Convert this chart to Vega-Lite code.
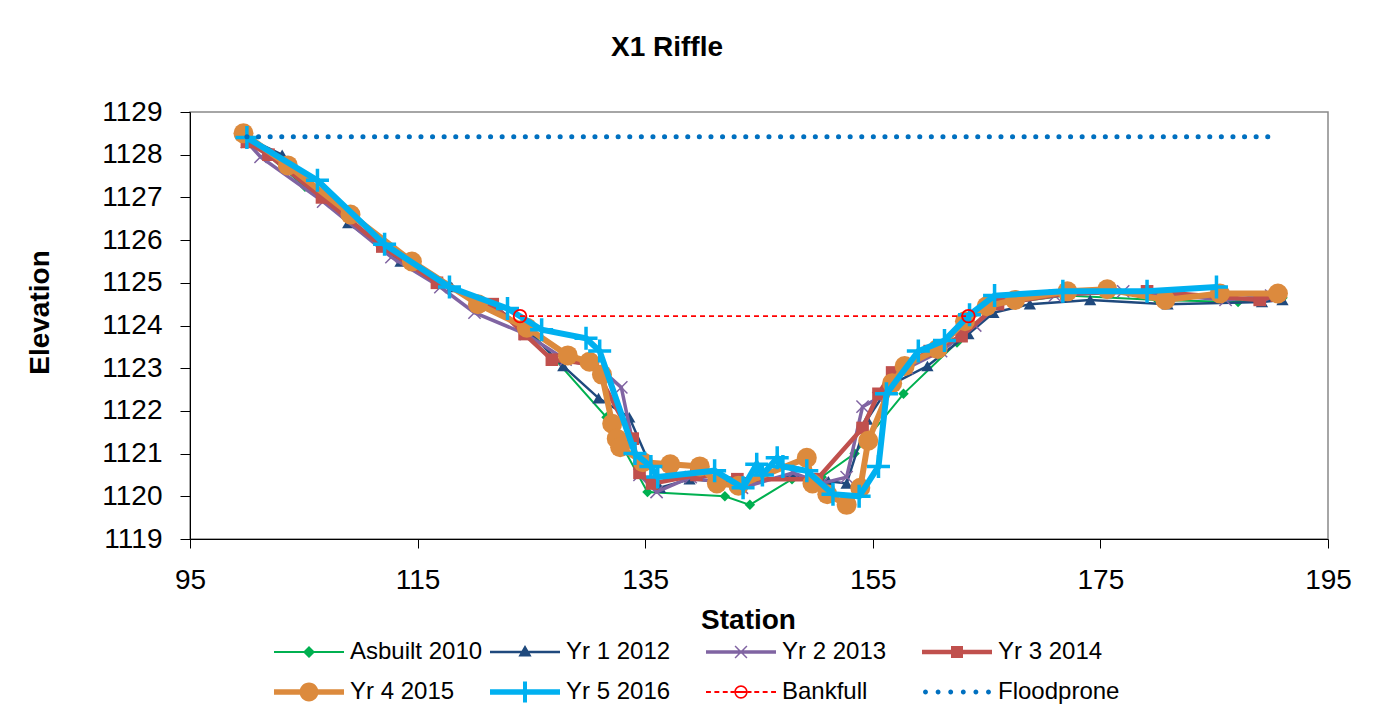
{
  "$schema": "https://vega.github.io/schema/vega-lite/v6.json",
  "autosize": "none",
  "width": 1138,
  "height": 427,
  "padding": {"left": 190, "top": 112, "right": 48, "bottom": 182},
  "background": "white",
  "title": {"text": "X1 Riffle", "font": "Liberation Sans", "fontSize": 28, "fontWeight": "bold", "color": "black", "anchor": "middle", "dx": -92, "offset": 14, "baseline": "alphabetic"},
  "data": {"values": [
    {"s":"Asbuilt 2010","x":100.0,"y":1128.4},{"s":"Asbuilt 2010","x":105.1,"y":1127.25},{"s":"Asbuilt 2010","x":109.5,"y":1126.5},{"s":"Asbuilt 2010","x":112.0,"y":1125.9},{"s":"Asbuilt 2010","x":116.5,"y":1125.1},{"s":"Asbuilt 2010","x":121.0,"y":1124.5},{"s":"Asbuilt 2010","x":124.6,"y":1123.95},{"s":"Asbuilt 2010","x":131.6,"y":1121.85},{"s":"Asbuilt 2010","x":135.2,"y":1120.1},{"s":"Asbuilt 2010","x":142.0,"y":1120.0},{"s":"Asbuilt 2010","x":144.2,"y":1119.8},{"s":"Asbuilt 2010","x":147.9,"y":1120.4},{"s":"Asbuilt 2010","x":150.5,"y":1120.45},{"s":"Asbuilt 2010","x":153.4,"y":1121.0},{"s":"Asbuilt 2010","x":157.7,"y":1122.4},{"s":"Asbuilt 2010","x":162.4,"y":1123.6},{"s":"Asbuilt 2010","x":166.0,"y":1124.5},{"s":"Asbuilt 2010","x":172.0,"y":1124.7},{"s":"Asbuilt 2010","x":180.0,"y":1124.6},{"s":"Asbuilt 2010","x":187.1,"y":1124.55},{"s":"Asbuilt 2010","x":191.0,"y":1124.65},
    {"s":"Yr 1 2012","x":100.0,"y":1128.4},{"s":"Yr 1 2012","x":103.1,"y":1128.0},{"s":"Yr 1 2012","x":108.9,"y":1126.4},{"s":"Yr 1 2012","x":113.5,"y":1125.5},{"s":"Yr 1 2012","x":118.0,"y":1124.9},{"s":"Yr 1 2012","x":122.0,"y":1124.4},{"s":"Yr 1 2012","x":124.6,"y":1123.9},{"s":"Yr 1 2012","x":127.8,"y":1123.05},{"s":"Yr 1 2012","x":130.9,"y":1122.3},{"s":"Yr 1 2012","x":133.6,"y":1121.85},{"s":"Yr 1 2012","x":136.3,"y":1120.2},{"s":"Yr 1 2012","x":138.9,"y":1120.4},{"s":"Yr 1 2012","x":143.5,"y":1120.3},{"s":"Yr 1 2012","x":148.0,"y":1120.5},{"s":"Yr 1 2012","x":151.1,"y":1120.35},{"s":"Yr 1 2012","x":152.7,"y":1120.3},{"s":"Yr 1 2012","x":154.5,"y":1121.8},{"s":"Yr 1 2012","x":156.5,"y":1122.6},{"s":"Yr 1 2012","x":159.8,"y":1123.05},{"s":"Yr 1 2012","x":163.4,"y":1123.8},{"s":"Yr 1 2012","x":165.6,"y":1124.3},{"s":"Yr 1 2012","x":168.8,"y":1124.5},{"s":"Yr 1 2012","x":174.1,"y":1124.6},{"s":"Yr 1 2012","x":180.9,"y":1124.5},{"s":"Yr 1 2012","x":189.2,"y":1124.55},{"s":"Yr 1 2012","x":191.0,"y":1124.6},
    {"s":"Yr 2 2013","x":100.0,"y":1128.3},{"s":"Yr 2 2013","x":101.2,"y":1127.95},{"s":"Yr 2 2013","x":106.7,"y":1126.9},{"s":"Yr 2 2013","x":112.7,"y":1125.6},{"s":"Yr 2 2013","x":117.0,"y":1124.9},{"s":"Yr 2 2013","x":120.0,"y":1124.3},{"s":"Yr 2 2013","x":124.5,"y":1123.8},{"s":"Yr 2 2013","x":128.0,"y":1123.2},{"s":"Yr 2 2013","x":131.0,"y":1123.0},{"s":"Yr 2 2013","x":132.9,"y":1122.55},{"s":"Yr 2 2013","x":134.5,"y":1120.5},{"s":"Yr 2 2013","x":136.0,"y":1120.1},{"s":"Yr 2 2013","x":139.0,"y":1120.45},{"s":"Yr 2 2013","x":143.5,"y":1120.2},{"s":"Yr 2 2013","x":148.0,"y":1120.55},{"s":"Yr 2 2013","x":150.5,"y":1120.3},{"s":"Yr 2 2013","x":152.7,"y":1120.45},{"s":"Yr 2 2013","x":154.1,"y":1122.1},{"s":"Yr 2 2013","x":155.5,"y":1122.3},{"s":"Yr 2 2013","x":158.0,"y":1123.0},{"s":"Yr 2 2013","x":161.0,"y":1123.4},{"s":"Yr 2 2013","x":164.0,"y":1124.0},{"s":"Yr 2 2013","x":166.5,"y":1124.6},{"s":"Yr 2 2013","x":171.0,"y":1124.7},{"s":"Yr 2 2013","x":177.0,"y":1124.8},{"s":"Yr 2 2013","x":186.0,"y":1124.6},{"s":"Yr 2 2013","x":190.0,"y":1124.7},
    {"s":"Yr 3 2014","x":100.0,"y":1128.3},{"s":"Yr 3 2014","x":101.9,"y":1128.0},{"s":"Yr 3 2014","x":106.6,"y":1127.0},{"s":"Yr 3 2014","x":111.9,"y":1125.85},{"s":"Yr 3 2014","x":116.7,"y":1125.0},{"s":"Yr 3 2014","x":121.6,"y":1124.5},{"s":"Yr 3 2014","x":124.4,"y":1123.8},{"s":"Yr 3 2014","x":126.8,"y":1123.2},{"s":"Yr 3 2014","x":130.4,"y":1123.1},{"s":"Yr 3 2014","x":133.9,"y":1121.35},{"s":"Yr 3 2014","x":134.5,"y":1120.55},{"s":"Yr 3 2014","x":135.6,"y":1120.3},{"s":"Yr 3 2014","x":139.5,"y":1120.5},{"s":"Yr 3 2014","x":143.1,"y":1120.4},{"s":"Yr 3 2014","x":150.1,"y":1120.4},{"s":"Yr 3 2014","x":154.1,"y":1121.6},{"s":"Yr 3 2014","x":155.5,"y":1122.4},{"s":"Yr 3 2014","x":156.7,"y":1122.9},{"s":"Yr 3 2014","x":160.0,"y":1123.4},{"s":"Yr 3 2014","x":162.8,"y":1123.75},{"s":"Yr 3 2014","x":166.0,"y":1124.5},{"s":"Yr 3 2014","x":172.0,"y":1124.75},{"s":"Yr 3 2014","x":179.1,"y":1124.8},{"s":"Yr 3 2014","x":189.0,"y":1124.6},{"s":"Yr 3 2014","x":190.5,"y":1124.7},
    {"s":"Yr 4 2015","x":99.7,"y":1128.5},{"s":"Yr 4 2015","x":103.6,"y":1127.75},{"s":"Yr 4 2015","x":109.1,"y":1126.6},{"s":"Yr 4 2015","x":114.5,"y":1125.5},{"s":"Yr 4 2015","x":120.3,"y":1124.5},{"s":"Yr 4 2015","x":124.6,"y":1123.95},{"s":"Yr 4 2015","x":128.2,"y":1123.3},{"s":"Yr 4 2015","x":130.1,"y":1123.15},{"s":"Yr 4 2015","x":131.2,"y":1122.85},{"s":"Yr 4 2015","x":132.1,"y":1121.7},{"s":"Yr 4 2015","x":132.5,"y":1121.35},{"s":"Yr 4 2015","x":132.8,"y":1121.15},{"s":"Yr 4 2015","x":134.8,"y":1120.8},{"s":"Yr 4 2015","x":137.2,"y":1120.75},{"s":"Yr 4 2015","x":139.8,"y":1120.7},{"s":"Yr 4 2015","x":141.3,"y":1120.3},{"s":"Yr 4 2015","x":143.2,"y":1120.25},{"s":"Yr 4 2015","x":149.2,"y":1120.9},{"s":"Yr 4 2015","x":149.7,"y":1120.3},{"s":"Yr 4 2015","x":151.0,"y":1120.05},{"s":"Yr 4 2015","x":152.7,"y":1119.8},{"s":"Yr 4 2015","x":153.9,"y":1120.2},{"s":"Yr 4 2015","x":154.6,"y":1121.3},{"s":"Yr 4 2015","x":156.7,"y":1122.65},{"s":"Yr 4 2015","x":157.8,"y":1123.05},{"s":"Yr 4 2015","x":160.7,"y":1123.45},{"s":"Yr 4 2015","x":163.1,"y":1124.1},{"s":"Yr 4 2015","x":165.0,"y":1124.45},{"s":"Yr 4 2015","x":167.5,"y":1124.6},{"s":"Yr 4 2015","x":172.1,"y":1124.8},{"s":"Yr 4 2015","x":175.6,"y":1124.85},{"s":"Yr 4 2015","x":180.7,"y":1124.6},{"s":"Yr 4 2015","x":185.5,"y":1124.75},{"s":"Yr 4 2015","x":190.6,"y":1124.75},
    {"s":"Yr 5 2016","x":100.0,"y":1128.4},{"s":"Yr 5 2016","x":106.2,"y":1127.4},{"s":"Yr 5 2016","x":112.1,"y":1125.9},{"s":"Yr 5 2016","x":117.8,"y":1124.9},{"s":"Yr 5 2016","x":122.9,"y":1124.4},{"s":"Yr 5 2016","x":125.9,"y":1123.9},{"s":"Yr 5 2016","x":129.8,"y":1123.7},{"s":"Yr 5 2016","x":131.0,"y":1123.4},{"s":"Yr 5 2016","x":134.1,"y":1121.0},{"s":"Yr 5 2016","x":135.5,"y":1120.7},{"s":"Yr 5 2016","x":136.1,"y":1120.45},{"s":"Yr 5 2016","x":141.1,"y":1120.6},{"s":"Yr 5 2016","x":143.6,"y":1120.2},{"s":"Yr 5 2016","x":144.8,"y":1120.75},{"s":"Yr 5 2016","x":145.3,"y":1120.5},{"s":"Yr 5 2016","x":146.6,"y":1120.9},{"s":"Yr 5 2016","x":147.1,"y":1120.7},{"s":"Yr 5 2016","x":149.2,"y":1120.6},{"s":"Yr 5 2016","x":151.5,"y":1120.05},{"s":"Yr 5 2016","x":153.8,"y":1120.0},{"s":"Yr 5 2016","x":155.5,"y":1120.7},{"s":"Yr 5 2016","x":156.2,"y":1122.4},{"s":"Yr 5 2016","x":159.0,"y":1123.4},{"s":"Yr 5 2016","x":161.3,"y":1123.65},{"s":"Yr 5 2016","x":163.5,"y":1124.25},{"s":"Yr 5 2016","x":165.7,"y":1124.7},{"s":"Yr 5 2016","x":171.7,"y":1124.8},{"s":"Yr 5 2016","x":179.1,"y":1124.8},{"s":"Yr 5 2016","x":185.2,"y":1124.9},
    {"s":"Bankfull","x":124.0,"y":1124.22},{"s":"Bankfull","x":163.4,"y":1124.22},
    {"s":"Floodprone","x":100.0,"y":1128.42},{"s":"Floodprone","x":190.6,"y":1128.42}
  ]},
  "encoding": {
    "x": {"field": "x", "type": "quantitative", "scale": {"domain": [95, 195], "nice": false, "zero": false},
      "axis": {"values": [95, 115, 135, 155, 175, 195], "title": "Station", "titleX": 558, "titleY": 81, "titleBaseline": "middle", "titleAnchor": "start", "titleAlign": "center", "labelPadding": 18, "labelFlush": false}},
    "y": {"field": "y", "type": "quantitative", "scale": {"domain": [1119, 1129], "nice": false, "zero": false},
      "axis": {"values": [1119, 1120, 1121, 1122, 1123, 1124, 1125, 1126, 1127, 1128, 1129], "format": "d", "title": "Elevation", "titleX": -150, "titleY": 200, "titleBaseline": "middle", "titleAlign": "center", "titleAngle": -90, "labelPadding": 18, "labelFlush": false}}
  },
  "layer": [
    {"transform": [{"filter": "datum.s === 'Asbuilt 2010'"}], "mark": {"type": "line", "color": "#00B050", "strokeWidth": 2}},
    {"transform": [{"filter": "datum.s === 'Asbuilt 2010'"}], "mark": {"type": "point", "shape": "diamond", "filled": true, "color": "#00B050", "size": 110, "opacity": 1}},
    {"transform": [{"filter": "datum.s === 'Yr 1 2012'"}], "mark": {"type": "line", "color": "#1F497D", "strokeWidth": 2.5}},
    {"transform": [{"filter": "datum.s === 'Yr 1 2012'"}], "mark": {"type": "point", "shape": "triangle-up", "filled": true, "color": "#1F497D", "size": 150, "opacity": 1}},
    {"transform": [{"filter": "datum.s === 'Yr 2 2013'"}], "mark": {"type": "line", "color": "#8064A2", "strokeWidth": 3.5}},
    {"transform": [{"filter": "datum.s === 'Yr 2 2013'"}], "mark": {"type": "point", "shape": "M-1,-1L1,1M-1,1L1,-1", "filled": false, "color": "#8064A2", "strokeWidth": 1.5, "size": 150, "opacity": 1}},
    {"transform": [{"filter": "datum.s === 'Yr 3 2014'"}], "mark": {"type": "line", "color": "#C0504D", "strokeWidth": 4.5}},
    {"transform": [{"filter": "datum.s === 'Yr 3 2014'"}], "mark": {"type": "point", "shape": "square", "filled": true, "color": "#C0504D", "size": 160, "opacity": 1}},
    {"transform": [{"filter": "datum.s === 'Yr 4 2015'"}], "mark": {"type": "line", "color": "#DC8A3D", "strokeWidth": 6}},
    {"transform": [{"filter": "datum.s === 'Yr 4 2015'"}], "mark": {"type": "point", "shape": "circle", "filled": true, "color": "#DC8A3D", "size": 400, "opacity": 1}},
    {"transform": [{"filter": "datum.s === 'Yr 5 2016'"}], "mark": {"type": "line", "color": "#00B0F0", "strokeWidth": 6}},
    {"transform": [{"filter": "datum.s === 'Yr 5 2016'"}], "mark": {"type": "point", "shape": "M-1,0H1M0,-1V1", "filled": false, "color": "#00B0F0", "strokeWidth": 3.5, "size": 529, "opacity": 1}},
    {"transform": [{"filter": "datum.s === 'Bankfull'"}], "mark": {"type": "line", "color": "#FF0000", "strokeWidth": 1.8, "strokeDash": [5, 4]}},
    {"transform": [{"filter": "datum.s === 'Bankfull'"}], "mark": {"type": "point", "shape": "circle", "filled": false, "color": "#FF0000", "strokeWidth": 1.8, "size": 160, "opacity": 1}},
    {"transform": [{"filter": "datum.s === 'Floodprone'"}], "mark": {"type": "line", "color": "#0070C0", "strokeWidth": 5, "strokeDash": [0.1, 11.5], "strokeCap": "round"}},
    {"transform": [{"filter": "false"}],
     "mark": {"type": "point", "filled": true, "size": 1600, "opacity": 1},
     "encoding": {
       "shape": {"field": "s", "type": "nominal",
         "scale": {"domain": ["Asbuilt 2010", "Yr 1 2012", "Yr 2 2013", "Yr 3 2014", "Yr 4 2015", "Yr 5 2016", "Bankfull", "Floodprone"],
           "range": [
             "M-1.75,-0.05H1.75V0.05H-1.75ZM0,-0.3L0.3,0L0,0.3L-0.3,0Z",
             "M-1.75,-0.063H1.75V0.063H-1.75ZM0,-0.35L0.33,0.23L-0.33,0.23Z",
             "M-1.75,-0.0875H1.75V0.0875H-1.75ZM-0.271,-0.324L0.324,0.271L0.271,0.324L-0.324,-0.271ZM-0.324,0.271L0.271,-0.324L0.324,-0.271L-0.271,0.324Z",
             "M-1.75,-0.112H1.75V0.112H-1.75ZM-0.3,-0.3H0.3V0.3H-0.3Z",
             "M-1.75,-0.138H1.75V0.138H-1.75ZM-0.4725,0A0.4725,0.4725 0 1,1 0.4725,0A0.4725,0.4725 0 1,1 -0.4725,0Z",
             "M-1.75,-0.138H1.75V0.138H-1.75ZM-0.1,-0.525H0.1V0.525H-0.1Z",
             "M-1.75,-0.044H-1.505V0.044H-1.75ZM-1.33,-0.044H-1.085V0.044H-1.33ZM-0.91,-0.044H-0.665V0.044H-0.91ZM-0.525,-0.044H-0.3325V0.044H-0.525ZM-0.2625,-0.044H0.2625V0.044H-0.2625ZM0.3325,-0.044H0.525V0.044H0.3325ZM0.665,-0.044H0.91V0.044H0.665ZM1.085,-0.044H1.33V0.044H1.085ZM1.505,-0.044H1.75V0.044H1.505ZM-0.3325,0A0.3325,0.3325 0 1,1 0.3325,0A0.3325,0.3325 0 1,1 -0.3325,0ZM-0.254,0A0.254,0.254 0 1,0 0.254,0A0.254,0.254 0 1,0 -0.254,0Z",
             "M-1.6975,0A0.1225,0.1225 0 1,1 -1.4525,0A0.1225,0.1225 0 1,1 -1.6975,0ZM-1.0675,0A0.1225,0.1225 0 1,1 -0.8225,0A0.1225,0.1225 0 1,1 -1.0675,0ZM-0.4375,0A0.1225,0.1225 0 1,1 -0.1925,0A0.1225,0.1225 0 1,1 -0.4375,0ZM0.1925,0A0.1225,0.1225 0 1,1 0.4375,0A0.1225,0.1225 0 1,1 0.1925,0ZM0.8225,0A0.1225,0.1225 0 1,1 1.0675,0A0.1225,0.1225 0 1,1 0.8225,0ZM1.4525,0A0.1225,0.1225 0 1,1 1.6975,0A0.1225,0.1225 0 1,1 1.4525,0Z"
           ]},
         "legend": {"title": null, "orient": "none", "legendX": 99, "legendY": 520, "direction": "horizontal", "columns": 4, "gridAlign": "all", "columnPadding": 7, "rowPadding": 8, "symbolSize": 1600, "labelOffset": 21, "labelFont": "Liberation Sans", "labelFontSize": 24, "labelColor": "black", "symbolStrokeWidth": 0, "padding": 0, "labelLimit": 400}},
       "color": {"field": "s", "type": "nominal",
         "scale": {"domain": ["Asbuilt 2010", "Yr 1 2012", "Yr 2 2013", "Yr 3 2014", "Yr 4 2015", "Yr 5 2016", "Bankfull", "Floodprone"],
           "range": ["#00B050", "#1F497D", "#8064A2", "#C0504D", "#DC8A3D", "#00B0F0", "#FF0000", "#0070C0"]}}
     }}
  ],
  "config": {
    "view": {"stroke": "#898989", "strokeWidth": 1.5},
    "axis": {"grid": false, "domainColor": "black", "domainWidth": 1, "tickColor": "black", "tickWidth": 1, "tickSize": 9, "labelFont": "Liberation Sans", "labelFontSize": 28, "labelColor": "black", "titleFont": "Liberation Sans", "titleFontSize": 28, "titleFontWeight": "bold", "titleColor": "black"},
    "axisY": {"tickSize": 10},
    "legend": {"symbolLimit": 0}
  }
}
